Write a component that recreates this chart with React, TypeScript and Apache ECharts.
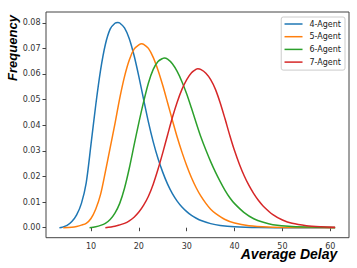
import React, { useEffect, useRef } from "react";
import * as echarts from "echarts";

const seriesNames = ["4-Agent", "5-Agent", "6-Agent", "7-Agent"];
const colors = ["#1f77b4", "#ff7f0e", "#2ca02c", "#d62728"];

const x4 = [3.4, 4, 5, 6, 7, 8, 9, 10, 11, 12, 13, 14, 15, 15.6, 16, 17, 18, 19, 20, 21, 22, 23, 24, 25, 26, 27, 28, 29, 30, 31, 32, 33, 35, 37, 40, 45, 52, 61];
const y4 = [0, 0.0002, 0.0009, 0.0024, 0.005, 0.0095, 0.0175, 0.0325, 0.048, 0.0615, 0.0715, 0.0775, 0.0798, 0.0801, 0.0799, 0.078, 0.0738, 0.0672, 0.059, 0.05, 0.0412, 0.0335, 0.027, 0.0216, 0.017, 0.0133, 0.0104, 0.0081, 0.0063, 0.0048, 0.0037, 0.0028, 0.0016, 0.0009, 0.0004, 0.0001, 0, 0];

const x5 = [4.2, 6, 7, 8, 9, 10, 11, 12, 13, 14, 15, 16, 17, 18, 19, 20, 20.6, 21, 22, 23, 24, 25, 26, 27, 28, 29, 30, 31, 32, 33, 34, 35, 36, 38, 40, 43, 47, 52, 61];
const y5 = [0, 0.0002, 0.0005, 0.001, 0.0017, 0.0036, 0.0073, 0.013, 0.0218, 0.0312, 0.0405, 0.0505, 0.059, 0.0655, 0.0697, 0.0714, 0.0718, 0.0716, 0.07, 0.0665, 0.0615, 0.0555, 0.0488, 0.042, 0.0354, 0.0295, 0.0242, 0.0195, 0.0155, 0.0122, 0.0095, 0.0072, 0.0056, 0.0032, 0.0018, 0.0008, 0.0003, 0.0001, 0];

const x6 = [9.7, 11, 12, 13, 14, 15, 16, 17, 18, 19, 20, 21, 22, 23, 24, 25, 25.3, 26, 27, 28, 29, 30, 31, 32, 33, 34, 35, 36, 37, 38, 39, 40, 42, 44, 46, 48, 52, 57, 61];
const y6 = [0, 0.0004, 0.0009, 0.0017, 0.0032, 0.0057, 0.0095, 0.0154, 0.0232, 0.0322, 0.041, 0.0492, 0.0565, 0.0618, 0.0649, 0.0661, 0.0662, 0.0658, 0.064, 0.061, 0.057, 0.0522, 0.0466, 0.0408, 0.0352, 0.0303, 0.0258, 0.0217, 0.018, 0.0146, 0.0117, 0.0094, 0.0059, 0.0035, 0.0021, 0.0012, 0.0005, 0.0002, 0.0001];

const x7 = [13, 15, 16, 17, 18, 19, 20, 21, 22, 23, 24, 25, 26, 27, 28, 29, 30, 31, 32, 32.3, 33, 34, 35, 36, 37, 38, 39, 40, 41, 42, 43, 44, 45, 46, 48, 50, 52, 55, 58, 61];
const y7 = [0, 0.0006, 0.0011, 0.0017, 0.0027, 0.0041, 0.0061, 0.0088, 0.0123, 0.017, 0.0228, 0.0293, 0.0362, 0.043, 0.049, 0.054, 0.0578, 0.0605, 0.0619, 0.062, 0.0617, 0.0603, 0.0578, 0.054, 0.0487, 0.0425, 0.036, 0.03, 0.0248, 0.0203, 0.0165, 0.0133, 0.0106, 0.0084, 0.0051, 0.003, 0.0017, 0.0008, 0.0004, 0.0002];

const xTicks = [10, 20, 30, 40, 50, 60];
const yTicks = [0, 0.01, 0.02, 0.03, 0.04, 0.05, 0.06, 0.07, 0.08];

const allX = [x4, x5, x6, x7];
const allY = [y4, y5, y6, y7];

export default function App() {
  const ref = useRef<HTMLDivElement>(null);
  useEffect(() => {
    document.body.style.margin = "0";
    if (!ref.current) return;
    const chart = echarts.init(ref.current, null, { renderer: "svg" });
    const tickFont = { fontFamily: "DejaVu Sans", fontSize: 8, color: "#333" };
    chart.setOption({
      animation: false,
      grid: {
        left: 46,
        top: 12,
        right: 8,
        height: 225.7,
        show: true,
        borderColor: "#444",
        borderWidth: 1,
        backgroundColor: "#fff",
      },
      xAxis: {
        type: "value",
        min: 0.6,
        max: 63.9,
        axisLine: { show: false },
        splitLine: { show: false },
        axisTick: { show: true, length: 3.5, lineStyle: { color: "#444" }, customValues: xTicks },
        axisLabel: { ...tickFont, margin: 5, customValues: xTicks, formatter: (v: number) => String(v) },
      },
      yAxis: {
        type: "value",
        min: -0.0039,
        max: 0.0842,
        axisLine: { show: false },
        splitLine: { show: false },
        axisTick: { show: true, length: 3.5, lineStyle: { color: "#444" }, customValues: yTicks },
        axisLabel: { ...tickFont, margin: 5.5, customValues: yTicks, formatter: (v: number) => v.toFixed(2) },
      },
      legend: {
        orient: "vertical",
        right: 12,
        top: 17,
        data: seriesNames,
        icon: "rect",
        itemWidth: 18,
        itemHeight: 1.5,
        itemGap: 2.7,
        padding: [2, 4, 3, 3.3],
        borderColor: "#ccc",
        borderWidth: 1,
        borderRadius: 2,
        backgroundColor: "rgba(255,255,255,0.8)",
        textStyle: { fontFamily: "DejaVu Sans", fontSize: 8, color: "#222", lineHeight: 10, padding: [0, 0, 0, 2] },
      },
      graphic: [
        {
          type: "text",
          x: 12.5,
          y: 48,
          rotation: Math.PI / 2,
          style: {
            text: "Frequency",
            font: 'italic bold 13px "Liberation Sans"',
            fill: "#000",
            align: "center",
            verticalAlign: "middle",
          },
        },
        {
          type: "text",
          x: 289,
          y: 254,
          style: {
            text: "Average Delay",
            font: 'italic bold 14px "Liberation Sans"',
            fill: "#000",
            align: "center",
            verticalAlign: "middle",
          },
        },
      ],
      series: seriesNames.map((name, i) => ({
        name,
        type: "line",
        symbol: "none",
        smooth: 0.3,
        lineStyle: { width: 1.5, color: colors[i] },
        itemStyle: { color: colors[i] },
        data: allX[i].map((x, j) => [x, allY[i][j]]),
      })),
    });
    return () => chart.dispose();
  }, []);
  return <div ref={ref} style={{ width: 357, height: 268 }} />;
}
